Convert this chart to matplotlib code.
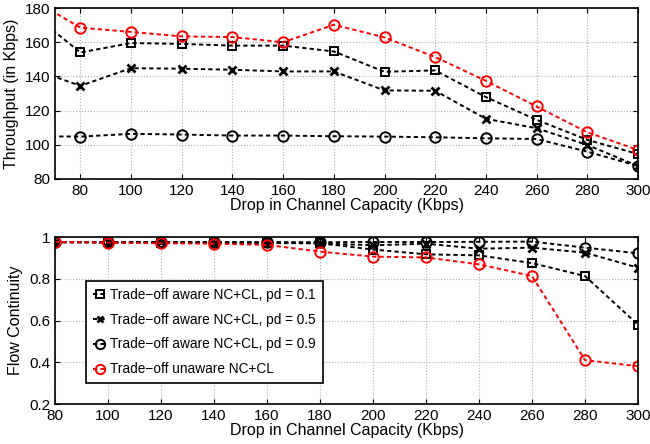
import numpy as np
from matplotlib import pyplot as plt

plt.rcParams['font.family'] = ['Liberation Sans', 'DejaVu Sans']

# drop in channel capacity (Kbps)
x_top = [60, 80, 100, 120, 140, 160, 180, 200, 220, 240, 260, 280, 300]
x_bot = [80, 100, 120, 140, 160, 180, 200, 220, 240, 260, 280, 300]

# throughput (Kbps)
thr_pd01 = [178, 154, 159.5, 159, 158, 158, 154.6, 142.7, 143.5, 127.9, 114.6, 102.9, 94.6]
thr_pd05 = [145, 134.5, 144.8, 144.5, 143.9, 142.9, 142.9, 131.8, 131.6, 115.2, 109.7, 99.9, 87.6]
thr_pd09 = [105, 104.8, 106.4, 106, 105.4, 105.4, 105, 104.8, 104.4, 103.8, 103.4, 96, 87.6]
thr_unaware = [186, 168.5, 166, 163.4, 163, 160, 170.2, 162.8, 151.3, 137.4, 122.4, 107.3, 97]

# flow continuity
fc_pd01 = [0.975, 0.974, 0.973, 0.972, 0.971, 0.97, 0.94, 0.917, 0.912, 0.875, 0.813, 0.58]
fc_pd05 = [0.975, 0.974, 0.974, 0.973, 0.972, 0.97, 0.96, 0.968, 0.944, 0.949, 0.925, 0.853]
fc_pd09 = [0.976, 0.976, 0.976, 0.976, 0.976, 0.975, 0.976, 0.976, 0.977, 0.978, 0.949, 0.922]
fc_unaware = [0.976, 0.973, 0.97, 0.968, 0.962, 0.93, 0.906, 0.902, 0.869, 0.813, 0.41, 0.381]

labels = ['Trade\u2212off aware NC+CL, pd = 0.1',
          'Trade\u2212off aware NC+CL, pd = 0.5',
          'Trade\u2212off aware NC+CL, pd = 0.9',
          'Trade\u2212off unaware NC+CL']

fig = plt.figure(figsize=(6.5, 4.44), dpi=100)
ax1 = fig.add_axes([55/650, 1-179/444, 583/650, 171/444])
ax2 = fig.add_axes([55/650, 1-404/444, 583/650, 167/444])

def styles():
    return [dict(color='black', marker='s', ms=6, mew=1.4),
            dict(color='black', marker='x', ms=5.5, mew=2),
            dict(color='black', marker='o', ms=7.5, mew=1.4),
            dict(color='red', marker='o', ms=7.5, mew=1.4)]

for ys, st, lab in zip([thr_pd01, thr_pd05, thr_pd09, thr_unaware], styles(), labels):
    ax1.plot(x_top, ys, linestyle=(0, (2.2, 1.6)), lw=1.4, mfc='none', label=lab, **st)

for ys, st, lab in zip([fc_pd01, fc_pd05, fc_pd09, fc_unaware], styles(), labels):
    ax2.plot(x_bot, ys, linestyle=(0, (2.2, 1.6)), lw=1.4, mfc='none', label=lab, **st)

ax1.set_xlim(70, 300)
ax1.set_ylim(80, 180)
ax1.set_xticks(range(80, 301, 20))
ax1.set_yticks(range(80, 181, 20))
ax1.set_ylabel('Throughput (in Kbps)', fontsize=11.5)
ax1.set_xlabel('Drop in Channel Capacity (Kbps)', fontsize=11.5, labelpad=0)

ax2.set_xlim(80, 300)
ax2.set_ylim(0.2, 1.0)
ax2.set_xticks(range(80, 301, 20))
ax2.set_yticks([0.2, 0.4, 0.6, 0.8, 1.0])
ax2.set_yticklabels(['0.2', '0.4', '0.6', '0.8', '1'])
ax2.set_ylabel('Flow Continuity', fontsize=11.5)
ax2.set_xlabel('Drop in Channel Capacity (Kbps)', fontsize=11.5, labelpad=0)

for ax in (ax1, ax2):
    ax.grid(True, linestyle=':', color='#b0b0b0', lw=0.8)
    ax.tick_params(direction='in', labelsize=11, top=True, right=True)
    for sp in ax.spines.values():
        sp.set_linewidth(1.2)

leg = ax2.legend(loc='lower left', bbox_to_anchor=(0.053, 0.125), fontsize=9.8,
                 fancybox=False, edgecolor='black', framealpha=1, markerscale=0.9,
                 handlelength=1.0, handletextpad=0.3, borderpad=0.5, labelspacing=0.8,
                 borderaxespad=0)
leg.get_frame().set_linewidth(1.2)

fig.savefig('out.png', dpi=100)
